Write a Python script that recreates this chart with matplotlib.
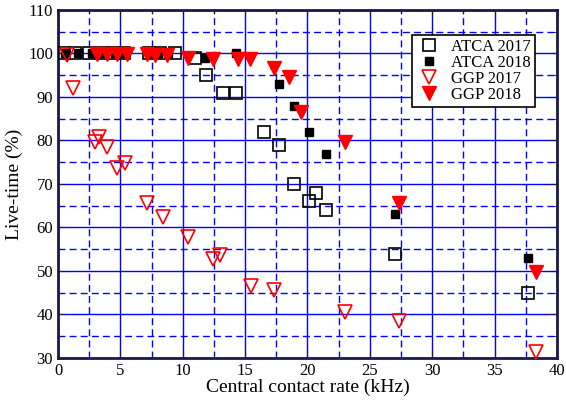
import matplotlib
matplotlib.use("Agg")
import matplotlib.pyplot as plt
from matplotlib.ticker import MultipleLocator

plt.rcParams['font.family'] = ['Liberation Serif', 'DejaVu Serif']

# ATCA 2017 (open squares)
atca17_x = [0.5, 1.4, 2.5, 3.5, 4.4, 5.3, 7.3, 8.2, 9.4, 11.0, 11.9, 13.2, 14.3,
            16.5, 17.7, 18.9, 20.7, 20.1, 21.5, 27.0, 37.7]
atca17_y = [100, 100, 100, 100, 100, 100, 100, 100, 100, 99, 95, 91, 91,
            82, 79, 70, 68, 66, 64, 54, 45]

# ATCA 2018 (filled squares)
atca18_x = [0.6, 1.6, 2.7, 3.6, 4.6, 5.4, 7.4, 8.0, 8.8, 11.8, 14.3, 17.7, 18.9, 20.1, 21.5, 27.0, 37.7]
atca18_y = [100, 100, 100, 100, 100, 100, 100, 100, 100, 99, 100, 93, 88, 82, 77, 63, 53]

# GGP 2017 (open triangles)
ggp17_x = [0.7, 1.2, 3.0, 3.3, 3.9, 4.7, 5.4, 7.1, 8.4, 10.4, 12.4, 13.0,
           15.5, 17.3, 23.0, 27.3, 38.3]
ggp17_y = [99.6, 92, 79.7, 80.8, 78.5, 73.7, 74.8, 65.6, 62.4, 57.8, 52.8, 53.7,
           46.5, 45.6, 40.6, 38.5, 31.4]

# GGP 2018 (filled triangles)
ggp18_x = [3.1, 3.9, 4.7, 5.5, 7.1, 7.8, 8.7, 10.4, 12.4, 14.4, 15.4,
           17.3, 18.5, 19.5, 23.0, 27.3, 38.3]
ggp18_y = [99.8, 99.8, 99.8, 99.8, 99.8, 99.7, 99.6, 98.9, 98.7, 98.7, 98.7,
           96.7, 94.6, 86.6, 79.7, 65.6, 49.8]

fig = plt.figure(figsize=(5.66, 4.03), dpi=100)
ax = fig.add_axes([0.1025, 0.1117, 0.8815, 0.8635])

ax.plot(atca17_x, atca17_y, ls='none', marker='s', ms=8.5, mfc='none', mec='black', mew=1.2, label='ATCA 2017', zorder=3)
ax.plot(atca18_x, atca18_y, ls='none', marker='s', ms=6, mfc='black', mec='black', label='ATCA 2018', zorder=3)
ax.plot(ggp17_x, ggp17_y, ls='none', marker='v', ms=10, mfc='none', mec='red', mew=1.2, label='GGP 2017', zorder=3)
ax.plot(ggp18_x, ggp18_y, ls='none', marker='v', ms=10, mfc='red', mec='red', label='GGP 2018', zorder=3)

ax.set_xlim(0, 40)
ax.set_ylim(30, 110)
ax.xaxis.set_major_locator(MultipleLocator(5))
ax.xaxis.set_minor_locator(MultipleLocator(2.5))
ax.yaxis.set_major_locator(MultipleLocator(10))
ax.yaxis.set_minor_locator(MultipleLocator(5))

ax.grid(which='major', color='blue', ls='-', lw=1.0)
ax.grid(which='minor', color='blue', ls=(0, (5, 3)), lw=1.0)
ax.set_axisbelow(True)

ax.tick_params(which='both', direction='in', top=True, right=True, labelsize=12, color='#1a1a4a')
ax.tick_params(which='major', length=5)
ax.tick_params(which='minor', length=3)
for s in ax.spines.values():
    s.set_color('#1a1a4a')
    s.set_linewidth(2)

ax.set_xlabel('Central contact rate (kHz)', fontsize=14, labelpad=0)
ax.set_ylabel('Live-time (%)', fontsize=14, labelpad=4)

leg = ax.legend(loc='upper right', bbox_to_anchor=(0.956, 0.928), borderaxespad=0,
                fontsize=12, fancybox=False, framealpha=1, edgecolor='black',
                handletextpad=0.5, borderpad=0.25, labelspacing=0.0, handlelength=1.6)
leg.get_frame().set_linewidth(1.2)

fig.savefig('out.png', dpi=100)
